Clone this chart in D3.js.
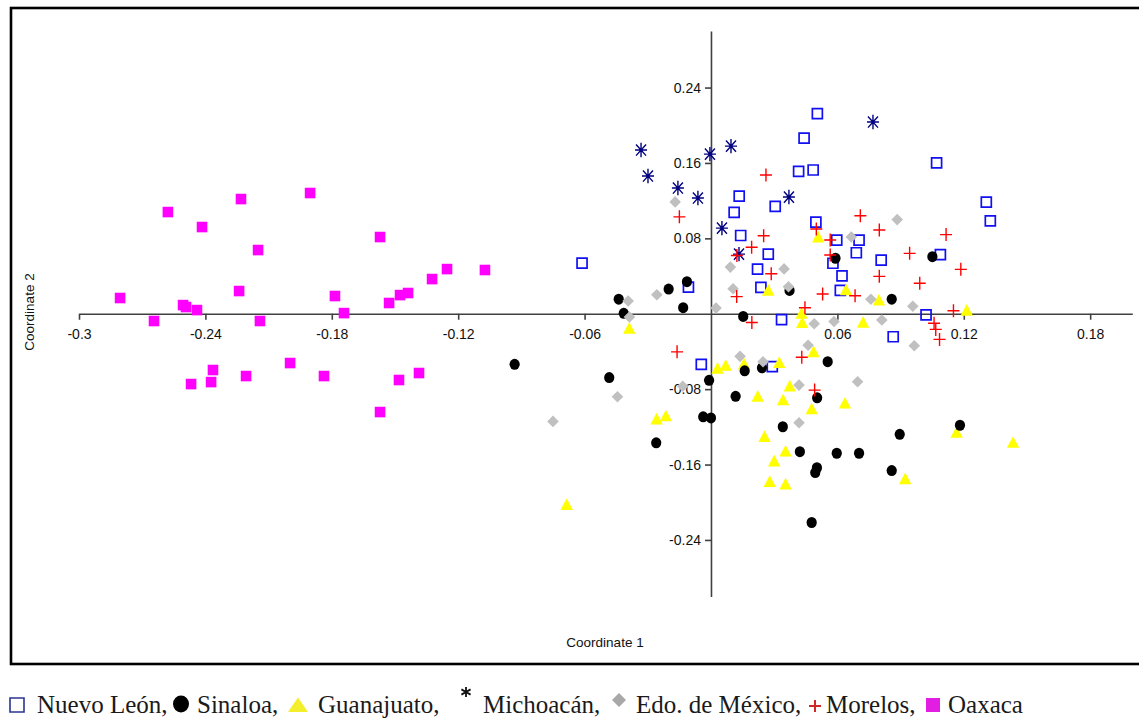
<!DOCTYPE html>
<html>
<head>
<meta charset="utf-8">
<script src="https://cdn.jsdelivr.net/npm/d3@7"></script>
<style>
  body { margin: 0; background: #fff; }
  .axis text { font-family: 'Liberation Sans', Arial, sans-serif; font-size: 14px; fill: #111; }
  .axis path, .axis line { stroke: #404040; stroke-width: 1.6px; }
  .axis-title { font-family: 'Liberation Sans', Arial, sans-serif; font-size: 13.5px; fill: #111; }
  .legend text { font-family: 'Liberation Serif', 'Times New Roman', serif; font-size: 25px; fill: #1a1a1a; }
</style>
</head>
<body>
<svg id="chart"></svg>
<script>
// ---- DATA (Coordinate 1, Coordinate 2) ----
const categories = ['Nuevo León', 'Sinaloa', 'Guanajuato', 'Michoacán', 'Edo. de México', 'Morelos', 'Oaxaca'];

const xTicks = [-0.3, -0.24, -0.18, -0.12, -0.06, 0.06, 0.12, 0.18];
const yTicks = [-0.24, -0.16, -0.08, 0.08, 0.16, 0.24];

const nuevoLeon = [
  [-0.0612, 0.0538], [-0.0107, 0.0283], [0.0134, 0.1249], [0.0110, 0.1076], [0.0141, 0.0830],
  [0.0305, 0.1140], [0.0272, 0.0633], [0.0221, 0.0474], [0.0237, 0.0280], [0.0335, -0.0062],
  [0.0505, 0.2124], [0.0442, 0.1864], [0.0416, 0.1511], [0.0485, 0.1525], [0.1071, 0.1601],
  [0.1307, 0.1185], [0.1326, 0.0986], [0.0498, 0.0973], [0.0597, 0.0782], [0.0703, 0.0782],
  [0.0690, 0.0647], [0.0808, 0.0570], [0.0579, 0.0536], [0.1089, 0.0628], [0.0622, 0.0402],
  [0.0614, 0.0249], [0.1021, -0.0012], [0.0865, -0.0244], [-0.0046, -0.0537], [0.0291, -0.0560]
];

const sinaloa = [
  [-0.0438, 0.0154], [-0.0414, 0.0004], [-0.0201, 0.0262], [-0.0114, 0.0340], [-0.0132, 0.0064],
  [0.0153, -0.0028], [0.0373, 0.0248], [0.0591, 0.0589], [0.1051, 0.0605], [0.0858, 0.0154],
  [-0.0932, -0.0537], [-0.0483, -0.0677], [-0.0260, -0.1369], [-0.0009, -0.0706], [-0.0037, -0.1093],
  [0.0000, -0.1105], [0.0117, -0.0876], [0.0160, -0.0605], [0.0242, -0.0574], [0.0341, -0.1199],
  [0.0554, -0.0509], [0.0504, -0.0892], [0.0422, -0.1464], [0.0597, -0.1480], [0.0703, -0.1480],
  [0.0503, -0.1634], [0.0495, -0.1685], [0.0896, -0.1279], [0.1182, -0.1183], [0.0858, -0.1664],
  [0.0478, -0.2215]
];

const guanajuato = [
  [-0.0388, -0.0152], [0.0031, -0.0576], [0.0070, -0.0546], [0.0157, -0.0531], [0.0324, -0.0515],
  [0.0222, -0.0873], [0.0342, -0.0912], [0.0374, -0.0765], [-0.0258, -0.1115], [-0.0214, -0.1082],
  [0.0254, -0.1301], [0.0354, -0.1455], [0.0300, -0.1561], [0.0279, -0.1778], [0.0354, -0.1804],
  [-0.0685, -0.2022], [0.0430, 0.0007], [0.0433, -0.0093], [0.0722, -0.0088], [0.1214, 0.0039],
  [0.0487, -0.0401], [0.0478, -0.1008], [0.0636, -0.0947], [0.1166, -0.1255], [0.1434, -0.1363],
  [0.0922, -0.1749], [0.0509, 0.0816], [0.0641, 0.0255], [0.0797, 0.0147], [0.0272, 0.0251]
];

const michoacan = [
  [-0.0332, 0.1737], [-0.0299, 0.1461], [-0.0157, 0.1334], [-0.0062, 0.1228], [-0.0005, 0.1694],
  [0.0095, 0.1779], [0.0052, 0.0909], [0.0133, 0.0633], [0.0370, 0.1238], [0.0769, 0.2034]
];

const edoMexico = [
  [-0.0170, 0.1187], [-0.0393, 0.0135], [-0.0387, -0.0035], [-0.0257, 0.0201], [0.0024, 0.0060],
  [0.0092, 0.0495], [0.0105, 0.0265], [0.0347, 0.0476], [0.0368, 0.0286], [0.0666, 0.0814],
  [0.0884, 0.0999], [0.0759, 0.0154], [0.0958, 0.0080], [0.0490, -0.0106], [0.0584, -0.0083],
  [0.0811, -0.0067], [0.0965, -0.0340], [0.0461, -0.0334], [-0.0750, -0.1142], [-0.0444, -0.0881],
  [-0.0134, -0.0769], [0.0138, -0.0452], [0.0247, -0.0509], [0.0418, -0.0757], [0.0696, -0.0721],
  [0.0418, -0.1156]
];

const morelos = [
  [-0.0150, 0.1028], [0.0261, 0.1472], [0.0250, 0.0828], [0.0193, 0.0706], [0.0123, 0.0618],
  [0.0286, 0.0424], [0.0122, 0.0182], [0.0194, -0.0093], [-0.0161, -0.0404], [0.0500, 0.0899],
  [0.0566, 0.0782], [0.0709, 0.1039], [0.0799, 0.0888], [0.1116, 0.0840], [0.0943, 0.0641],
  [0.0566, 0.0623], [0.0799, 0.0397], [0.1186, 0.0471], [0.0991, 0.0323], [0.0530, 0.0209],
  [0.0684, 0.0191], [0.1151, 0.0032], [0.0446, 0.0064], [0.1059, -0.0101], [0.1067, -0.0166],
  [0.1085, -0.0272], [0.0431, -0.0462], [0.0492, -0.0810]
];

const oaxaca = [
  [-0.2578, 0.1079], [-0.2231, 0.1217], [-0.1903, 0.1281], [-0.2416, 0.0920], [-0.2150, 0.0676],
  [-0.1571, 0.0814], [-0.2805, 0.0167], [-0.2240, 0.0241], [-0.1785, 0.0188], [-0.2506, 0.0092],
  [-0.2492, 0.0071], [-0.2440, 0.0039], [-0.1528, 0.0114], [-0.1742, 0.0007], [-0.2644, -0.0077],
  [-0.2141, -0.0077], [-0.1476, 0.0198], [-0.1438, 0.0220], [-0.1324, 0.0368], [-0.1253, 0.0474],
  [-0.1073, 0.0464], [-0.1998, -0.0523], [-0.2364, -0.0597], [-0.2207, -0.0661], [-0.1837, -0.0661],
  [-0.2468, -0.0746], [-0.2373, -0.0725], [-0.1481, -0.0703], [-0.1386, -0.0629], [-0.1571, -0.1043]
];

// marker shapes (paths around 0,0)
const shapes = {
  openSquare: { d: 'M-5,-5H5V5H-5Z', fill: 'none', stroke: '#1010f0', sw: 1.7 },
  circle: { d: 'M0,-5.5A5.1,5.5 0 1,1 0,5.5A5.1,5.5 0 1,1 0,-5.5Z', fill: '#000', stroke: 'none', sw: 0 },
  triangle: { d: 'M0,-6L6.2,5.6H-6.2Z', fill: '#ffff00', stroke: 'none', sw: 0 },
  asterisk: { d: 'M-6,0H6M0,-7.2V7.2M-5,-5.6L5,5.6M-5,5.6L5,-5.6', fill: 'none', stroke: '#000080', sw: 1.4 },
  diamond: { d: 'M0,-5.8L5.8,0L0,5.8L-5.8,0Z', fill: '#c0c0c0', stroke: 'none', sw: 0 },
  plus: { d: 'M-6,0H6M0,-6.5V6.5', fill: 'none', stroke: '#ff0000', sw: 1.4 },
  filledSquare: { d: 'M-5.3,-5.3H5.3V5.3H-5.3Z', fill: '#ff00ff', stroke: 'none', sw: 0 }
};

const seriesData = [
  { name: categories[0], values: nuevoLeon, shape: 'openSquare' },
  { name: categories[2], values: guanajuato, shape: 'triangle' },
  { name: categories[1], values: sinaloa, shape: 'circle' },
  { name: categories[4], values: edoMexico, shape: 'diamond' },
  { name: categories[3], values: michoacan, shape: 'asterisk' },
  { name: categories[5], values: morelos, shape: 'plus' },
  { name: categories[6], values: oaxaca, shape: 'filledSquare' }
];

class CoordinatePlot {

  constructor(_config, _data) {
    this.config = {
      parentElement: _config.parentElement,
      containerWidth: _config.containerWidth || 1139,
      containerHeight: _config.containerHeight || 718
    }
    this.data = _data;
    this.initVis();
  }

  initVis() {
    let vis = this;

    vis.svg = d3.select(vis.config.parentElement)
      .attr('width', vis.config.containerWidth)
      .attr('height', vis.config.containerHeight);

    // frame around the plot (right edge falls outside the picture)
    vis.svg.append('rect')
      .attr('x', 11)
      .attr('y', 8)
      .attr('width', 1160)
      .attr('height', 656)
      .attr('fill', 'none')
      .attr('stroke', '#000')
      .attr('stroke-width', 2.6);

    vis.xScale = d3.scaleLinear()
      .domain([-0.3, 0.2])
      .range([79, 1132.3]);

    vis.yScale = d3.scaleLinear()
      .domain([-0.3, 0.3])
      .range([596.5, 31]);

    // ---- AXES crossing at (0,0) ----
    vis.xAxis = d3.axisBottom(vis.xScale)
      .tickValues(xTicks)
      .tickSize(6)
      .tickSizeOuter(0)
      .tickPadding(9)
      .tickFormat(d => String(d));

    vis.yAxis = d3.axisLeft(vis.yScale)
      .tickValues(yTicks)
      .tickSize(6)
      .tickSizeOuter(0)
      .tickPadding(4)
      .tickFormat(d => String(d));

    vis.svg.append('g')
      .attr('class', 'axis x-axis')
      .attr('transform', `translate(0, ${vis.yScale(0)})`)
      .call(vis.xAxis);

    vis.svg.append('g')
      .attr('class', 'axis y-axis')
      .attr('transform', `translate(${vis.xScale(0)}, 0)`)
      .call(vis.yAxis);

    vis.svg.append('text')
      .attr('class', 'axis-title')
      .attr('x', 605)
      .attr('y', 647)
      .attr('text-anchor', 'middle')
      .text('Coordinate 1');

    vis.svg.append('text')
      .attr('class', 'axis-title')
      .attr('transform', 'translate(34, 312) rotate(-90)')
      .attr('text-anchor', 'middle')
      .text('Coordinate 2');

    vis.renderVis();
    vis.renderLegend();
  }

  renderVis() {
    let vis = this;

    vis.svg.selectAll('.series')
      .data(vis.data)
      .join('g')
      .attr('class', 'series')
      .each(function(s) {
        const shape = shapes[s.shape];
        d3.select(this).selectAll('path')
          .data(s.values)
          .join('path')
          .attr('d', shape.d)
          .attr('transform', d => `translate(${vis.xScale(d[0])}, ${vis.yScale(d[1])})`)
          .attr('fill', shape.fill)
          .attr('stroke', shape.stroke)
          .attr('stroke-width', shape.sw);
      });
  }

  renderLegend() {
    let vis = this;

    // legend symbols are drawn a little differently from the plot markers
    const legendItems = [
      { label: categories[0] + ',', sx: 17, tx: 37, d: 'M-7,-7H7V7H-7Z', fill: 'none', stroke: '#2b3590', sw: 1.6, sy: 705 },
      { label: categories[1] + ',', sx: 181, tx: 197, d: 'M0,-8.5A8,8.5 0 1,1 0,8.5A8,8.5 0 1,1 0,-8.5Z', fill: '#000', stroke: 'none', sw: 0, sy: 704 },
      { label: categories[2] + ',', sx: 298, tx: 318, d: 'M0,-7.5L10,7H-10Z', fill: '#f4ef2c', stroke: 'none', sw: 0, sy: 705 },
      { label: categories[3] + ',', sx: 466, tx: 483, d: 'M0,-5V5M-4.6,-2.6L4.6,2.6M-4.6,2.6L4.6,-2.6', fill: 'none', stroke: '#111', sw: 1.8, sy: 692 },
      { label: categories[4] + ',', sx: 619, tx: 636, d: 'M0,-7L7,0L0,7L-7,0Z', fill: '#a8a8a8', stroke: 'none', sw: 0, sy: 700 },
      { label: categories[5] + ',', sx: 815, tx: 826, d: 'M-6,0H6M0,-6V6', fill: 'none', stroke: '#d02828', sw: 2, sy: 706 },
      { label: categories[6], sx: 933, tx: 948, d: 'M-7,-7H7V7H-7Z', fill: '#e31ee3', stroke: 'none', sw: 0, sy: 705 }
    ];

    const legend = vis.svg.append('g').attr('class', 'legend');

    legend.selectAll('path')
      .data(legendItems)
      .join('path')
      .attr('d', d => d.d)
      .attr('transform', d => `translate(${d.sx}, ${d.sy})`)
      .attr('fill', d => d.fill)
      .attr('stroke', d => d.stroke)
      .attr('stroke-width', d => d.sw);

    legend.selectAll('text')
      .data(legendItems)
      .join('text')
      .attr('x', d => d.tx)
      .attr('y', 713)
      .text(d => d.label);
  }
}

const plot = new CoordinatePlot({ parentElement: '#chart' }, seriesData);
</script>
</body>
</html>
